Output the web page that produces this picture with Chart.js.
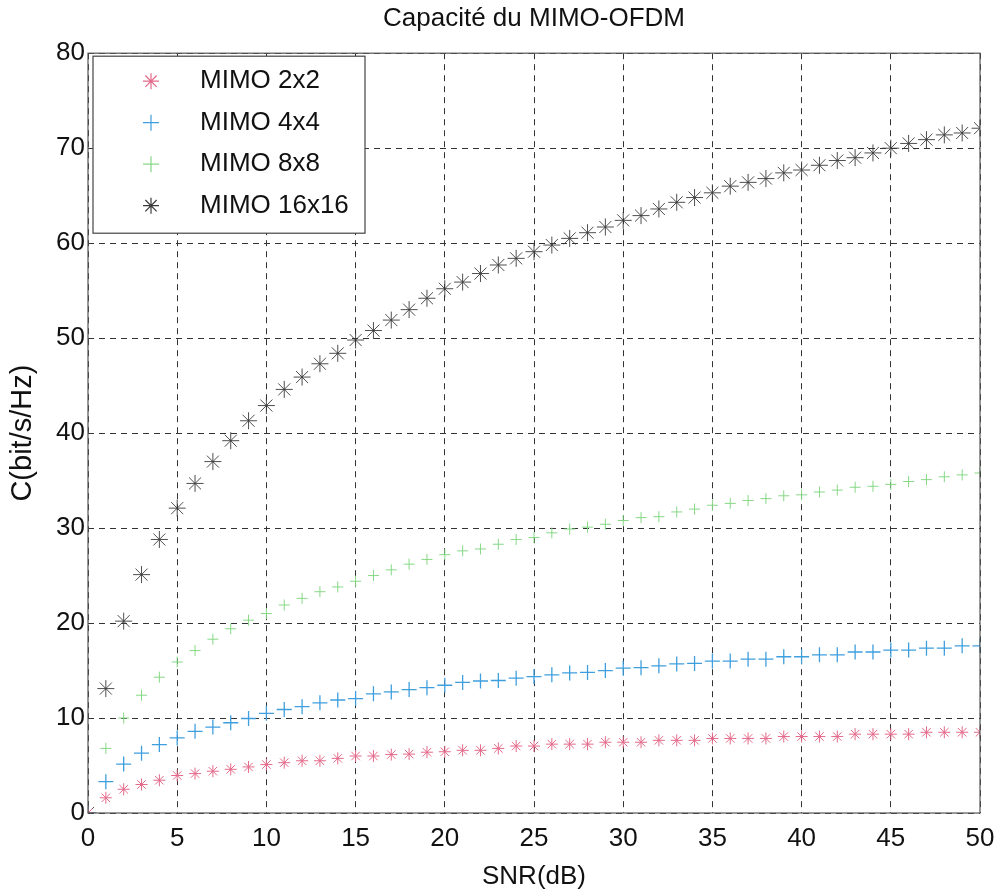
<!DOCTYPE html>
<html>
<head>
<meta charset="utf-8">
<script src="https://cdn.jsdelivr.net/npm/chart.js@4"></script>
<style>
  body { margin: 0; background: #fff; }
  #wrap { width: 995px; height: 894px; }
</style>
</head>
<body>
<div id="wrap"><canvas id="capChart" width="995" height="894"></canvas></div>
<script>
// SNR values (dB)
const snr = [0, 1, 2, 3, 4, 5, 6, 7, 8, 9, 10, 11, 12, 13, 14, 15, 16, 17, 18, 19, 20,
  21, 22, 23, 24, 25, 26, 27, 28, 29, 30, 31, 32, 33, 34, 35, 36, 37, 38, 39, 40,
  41, 42, 43, 44, 45, 46, 47, 48, 49, 50];

// Capacity (bit/s/Hz)
const mimo2 = [0, 1.6, 2.5, 3.0, 3.45, 3.95, 4.15, 4.4, 4.6, 4.85, 5.1, 5.3, 5.5, 5.5, 5.75, 6.0, 6.0,
  6.15, 6.2, 6.4, 6.45, 6.6, 6.6, 6.8, 7.05, 7.05, 7.25, 7.25, 7.25, 7.45, 7.45, 7.45, 7.65, 7.65,
  7.65, 7.85, 7.85, 7.85, 7.85, 8.05, 8.05, 8.05, 8.05, 8.3, 8.3, 8.3, 8.3, 8.5, 8.5, 8.5, 8.5];
const mimo4 = [0, 3.3, 5.15, 6.3, 7.2, 7.9, 8.6, 9.05, 9.5, 9.95, 10.5, 10.9, 11.2, 11.6, 11.9, 12.05,
  12.55, 12.75, 13.0, 13.2, 13.45, 13.75, 13.9, 13.95, 14.2, 14.35, 14.55, 14.75, 14.8, 15.0, 15.25,
  15.3, 15.5, 15.7, 15.75, 16.0, 16.0, 16.2, 16.2, 16.45, 16.45, 16.65, 16.65, 16.95, 16.95, 17.15,
  17.15, 17.35, 17.35, 17.6, 17.6];
const mimo8 = [0, 6.8, 10.0, 12.4, 14.3, 15.9, 17.1, 18.3, 19.4, 20.3, 21.0, 21.9, 22.6, 23.3, 23.8,
  24.4, 25.0, 25.6, 26.2, 26.7, 27.2, 27.6, 27.8, 28.3, 28.8, 29.0, 29.5, 29.9, 30.1, 30.4, 30.8,
  31.1, 31.2, 31.7, 32.0, 32.4, 32.6, 32.9, 33.1, 33.4, 33.5, 33.8, 34.0, 34.3, 34.4, 34.6, 34.9,
  35.1, 35.4, 35.6, 35.8];
const mimo16 = [0, 13.1, 20.2, 25.1, 28.8, 32.1, 34.7, 37.0, 39.2, 41.3, 42.9, 44.6, 45.9, 47.3, 48.4,
  49.8, 50.8, 51.9, 53.0, 54.2, 55.2, 55.9, 56.8, 57.7, 58.4, 59.1, 59.8, 60.5, 61.1, 61.7, 62.4,
  62.9, 63.6, 64.3, 64.8, 65.3, 66.0, 66.4, 66.8, 67.4, 67.7, 68.2, 68.7, 69.0, 69.5, 70.0, 70.5,
  70.9, 71.4, 71.6, 72.1];

const labels = ['MIMO 2x2', 'MIMO 4x4', 'MIMO 8x8', 'MIMO 16x16'];
const colors = ['#e46a8a', '#3f9fde', '#86d886', '#3a3a3a'];

const FONT = "'Liberation Sans', Arial, sans-serif";

function toPoints(ys) {
    return snr.map((x, i) => ({ x: x, y: ys[i] }));
}

// Box round the plot area (MATLAB style)
const frameBox = {
    id: 'frameBox',
    afterDatasetsDraw(chart) {
        const a = chart.chartArea;
        const ctx = chart.ctx;
        ctx.save();
        ctx.strokeStyle = '#555';
        ctx.lineWidth = 1.2;
        ctx.setLineDash([]);
        ctx.strokeRect(a.left, a.top, a.right - a.left, a.bottom - a.top);
        ctx.restore();
    }
};

// Legend drawn inside the plot, upper left, with a white box
const insideLegend = {
    id: 'insideLegend',
    afterDatasetsDraw(chart) {
        const a = chart.chartArea;
        const ctx = chart.ctx;
        const x0 = a.left + 5, y0 = a.top + 3;
        ctx.save();
        ctx.fillStyle = '#fff';
        ctx.fillRect(x0, y0, 272, 177);
        ctx.strokeStyle = '#444';
        ctx.lineWidth = 1.2;
        ctx.strokeRect(x0, y0, 272, 177);
        ctx.font = '26px ' + FONT;
        ctx.textBaseline = 'middle';
        chart.data.datasets.forEach((ds, i) => {
            const cy = y0 + 25 + i * 41.5;
            ctx.strokeStyle = ds.borderColor;
            ctx.fillStyle = ds.borderColor;
            Chart.helpers.drawPoint(ctx, { pointStyle: ds.pointStyle, radius: 8, borderWidth: 1, rotation: 0 }, x0 + 58, cy);
            ctx.fillStyle = '#111';
            ctx.fillText(ds.label, x0 + 107, cy);
        });
        ctx.restore();
    }
};

const ctx = document.getElementById('capChart').getContext('2d');
new Chart(ctx, {
    type: 'scatter',
    data: {
        datasets: [
            { label: labels[0], data: toPoints(mimo2), pointStyle: 'star', pointRadius: 6, borderWidth: 1, borderColor: colors[0], backgroundColor: colors[0] },
            { label: labels[1], data: toPoints(mimo4), pointStyle: 'cross', pointRadius: 7.5, borderWidth: 1.3, borderColor: colors[1], backgroundColor: colors[1] },
            { label: labels[2], data: toPoints(mimo8), pointStyle: 'cross', pointRadius: 5.5, borderWidth: 1, borderColor: colors[2], backgroundColor: colors[2] },
            { label: labels[3], data: toPoints(mimo16), pointStyle: 'star', pointRadius: 8.5, borderWidth: 0.9, borderColor: colors[3], backgroundColor: colors[3] }
        ]
    },
    options: {
        responsive: false,
        animation: false,
        layout: { padding: { left: 0, right: 0, top: 0, bottom: 0 } },
        plugins: {
            legend: { display: false },
            tooltip: { enabled: false },
            title: {
                display: true,
                fullSize: false,
                text: 'Capacité du MIMO-OFDM',
                color: '#111',
                font: { family: FONT, size: 26, weight: 'normal' },
                padding: { top: 3, bottom: 19 }
            }
        },
        scales: {
            x: {
                type: 'linear',
                min: 0,
                max: 50,
                ticks: { stepSize: 5, color: '#111', font: { family: FONT, size: 26 }, padding: 10, maxRotation: 0 },
                grid: { color: '#333', lineWidth: 1, drawTicks: false },
                border: { display: false, dash: [6, 5] },
                title: { display: true, text: 'SNR(dB)', color: '#111', font: { family: FONT, size: 26 }, padding: { top: 0, bottom: 2 } },
                afterFit(scale) { scale.height = 81; scale.paddingRight = 15; }
            },
            y: {
                type: 'linear',
                min: 0,
                max: 80,
                ticks: { stepSize: 10, color: '#111', font: { family: FONT, size: 26 }, padding: 3 },
                grid: { color: '#333', lineWidth: 1, drawTicks: false },
                border: { display: false, dash: [6, 5] },
                title: { display: true, text: 'C(bit/s/Hz)', color: '#111', font: { family: FONT, size: 29 }, padding: { top: 6, bottom: 0 } },
                afterFit(scale) { scale.width = 88; }
            }
        }
    },
    plugins: [frameBox, insideLegend]
});
</script>
</body>
</html>
